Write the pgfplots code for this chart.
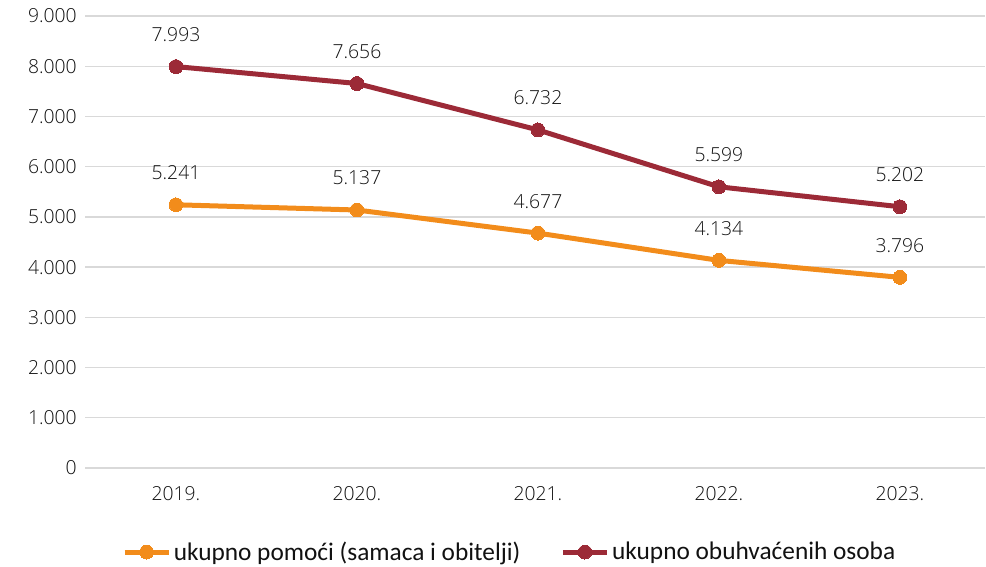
\documentclass[border=0pt]{standalone}
\usepackage{fontspec}
\setmainfont{Open Sans}[UprightFont={* Light}]
\newfontfamily\legfont{Carlito}
\usepackage{pgfplots}
\pgfplotsset{compat=1.18}
\definecolor{orangeline}{HTML}{F28C1B}
\definecolor{maroonline}{HTML}{9C2A37}
\definecolor{gridgray}{HTML}{D9D9D9}
\definecolor{txt}{HTML}{111111}

\begin{document}
\begin{tikzpicture}
\begin{axis}[
  name=main,
  scale only axis,
  width=674.6pt, height=339pt,
  xmin=-0.5, xmax=4.47,
  ymin=0, ymax=9000,
  axis line style={draw=none},
  major tick length=0pt,
  xtick={0,1,2,3,4},
  xticklabels={2019.,2020.,2021.,2022.,2023.},
  ytick={0,1000,...,9000},
  ymajorgrids,
  grid style={gridgray, line width=1pt},
  /pgf/number format/.cd, 1000 sep={.}, fixed, precision=0, assume math mode=true,
  /pgfplots/.cd,
  tick label style={font=\fontsize{14.5}{17}\selectfont, text=txt},
  xticklabel style={yshift=-10pt},
  yticklabel style={xshift=-3pt},
  scaled y ticks=false,
  nodes near coords,
  every node near coord/.append style={font=\fontsize{14.5}{17}\selectfont, text=txt, anchor=center, yshift=24pt},
  legend columns=2,
  legend style={at={(0.472,-0.186)}, anchor=center, draw=none, fill=none,
    font=\legfont\fontsize{19}{22}\selectfont, text=txt,
    /tikz/every even column/.append style={column sep=28pt}},
  legend image code/.code={
    \draw[mark repeat=2, mark phase=2] plot coordinates {(0cm,0cm) (0.58cm,0cm) (1.16cm,0cm)};
  },
  clip=false,
]
\addplot[orangeline, line width=3.75pt, mark=*, mark size=5.2pt, mark options={line width=0pt, fill=orangeline}]
  coordinates {(0,5241) (1,5137) (2,4677) (3,4134) (4,3796)};
\addplot[maroonline, line width=3.75pt, mark=*, mark size=5.2pt, mark options={line width=0pt, fill=maroonline}]
  coordinates {(0,7993) (1,7656) (2,6732) (3,5599) (4,5202)};
\legend{ukupno pomoći (samaca i obitelji), ukupno obuhvaćenih osoba}
\end{axis}
\pgfresetboundingbox
\path[use as bounding box] ([xshift=-64.1pt, yshift=12pt]main.north west) rectangle ([xshift=675.4pt, yshift=-74.25pt]main.south west);
\end{tikzpicture}
\end{document}
